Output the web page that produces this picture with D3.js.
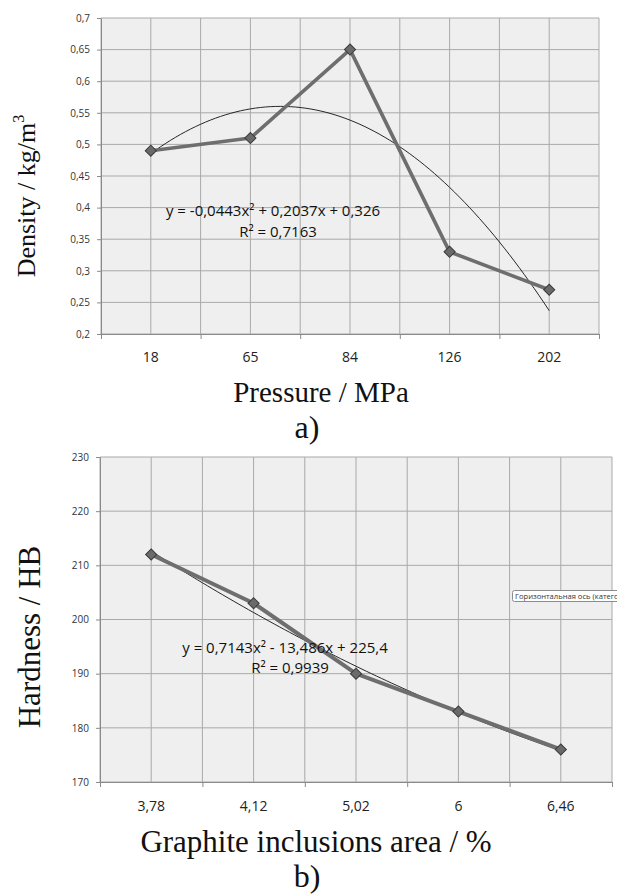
<!DOCTYPE html>
<html>
<head>
<meta charset="utf-8">
<script src="https://cdn.jsdelivr.net/npm/d3@7"></script>
<style>
  body { margin: 0; background: #fff; }
  svg { display: block; }
</style>
</head>
<body>
<div id="main"></div>
<script>
// panel a) density vs pressure
const pressureLabels = ['18', '65', '84', '126', '202'];
const densityValues = [0.49, 0.51, 0.65, 0.33, 0.27];
const densityTicks = [0.2, 0.25, 0.3, 0.35, 0.4, 0.45, 0.5, 0.55, 0.6, 0.65, 0.7];
const densityTrendCoefs = [-0.0443, 0.2037, 0.326];
const densityEquation = ['y = -0,0443x² + 0,2037x + 0,326', 'R² = 0,7163'];

// panel b) hardness vs graphite area
const graphiteLabels = ['3,78', '4,12', '5,02', '6', '6,46'];
const hardnessValues = [212, 203, 190, 183, 176];
const hardnessTicks = [170, 180, 190, 200, 210, 220, 230];
const hardnessTrendCoefs = [0.7143, -13.486, 225.4];
const hardnessEquation = ['y = 0,7143x² - 13,486x + 225,4', 'R² = 0,9939'];

const
  width = 617,
  height = 896;

const serif = "'Liberation Serif', 'DejaVu Serif', serif";
const sans = "'Open Sans', 'Noto Sans', sans-serif";

const commaFmt = d3.formatLocale({decimal: ',', thousands: ' ', grouping: [3], currency: ['', '']}).format('.2~f');

const svg = d3.select('div#main').append('svg').attr('width', width).attr('height', height);

function drawPanel(p) {
  const x = d3.scaleBand().domain(p.labels).range([p.left, p.right]);
  const y = d3.scaleLinear().domain(d3.extent(p.ticks)).range([p.bottom, p.top]);
  const slots = d3.scaleLinear().domain([0, p.labels.length]).range([p.left, p.right]);
  const cx = (d, i) => x(p.labels[i]) + x.bandwidth() / 2;

  const g = svg.append('g');

  g.append('rect')
    .attr('x', p.left).attr('y', p.top)
    .attr('width', p.right - p.left).attr('height', p.bottom - p.top)
    .attr('fill', '#efefef');

  // grid: horizontal at every tick, vertical at band edges and centres
  g.append('g').selectAll('line').data(p.ticks).join('line')
    .attr('x1', p.left).attr('x2', p.right)
    .attr('y1', (d) => y(d)).attr('y2', (d) => y(d))
    .attr('stroke', '#a9a9a9').attr('stroke-width', 1);
  g.append('g').selectAll('line').data(d3.range(0, p.labels.length + 0.5, 0.5)).join('line')
    .attr('x1', (d) => slots(d)).attr('x2', (d) => slots(d))
    .attr('y1', p.top).attr('y2', p.bottom)
    .attr('stroke', '#a9a9a9').attr('stroke-width', 1);

  const yAxis = d3.axisLeft(y).tickValues(p.ticks).tickSize(4).tickSizeOuter(0).tickPadding(7)
    .tickFormat(p.fmt);
  g.append('g').attr('class', 'axis y').attr('transform', `translate(${p.left}, 0)`).call(yAxis)
    .call((a) => a.selectAll('line, path').attr('stroke', '#8a8a8a'))
    .call((a) => a.selectAll('text').attr('font-family', sans).attr('font-size', 10).attr('fill', '#333'));

  const xTicks = d3.axisBottom(slots).tickValues(d3.range(0, p.labels.length + 1)).tickSize(5).tickSizeOuter(0)
    .tickFormat('');
  g.append('g').attr('transform', `translate(0, ${p.bottom})`).call(xTicks)
    .call((a) => a.selectAll('line, path').attr('stroke', '#8a8a8a'));

  const xAxis = d3.axisBottom(x).tickSize(0).tickPadding(p.labelPad);
  g.append('g').attr('class', 'axis x').attr('transform', `translate(0, ${p.bottom})`).call(xAxis)
    .call((a) => a.select('.domain').remove())
    .call((a) => a.selectAll('text').attr('font-family', sans).attr('font-size', 14).attr('fill', '#222'));

  // polynomial trend line from the printed equation
  const [a2, a1, a0] = p.coefs;
  const trend = d3.range(1, p.labels.length + 0.001, 0.05);
  const trendLine = d3.line()
    .x((t) => slots(t - 0.5))
    .y((t) => y(a2 * t * t + a1 * t + a0));
  g.append('path').attr('d', trendLine(trend))
    .attr('fill', 'none').attr('stroke', '#111').attr('stroke-width', 0.9);

  const line = d3.line().x(cx).y((d) => y(d));
  g.append('path').attr('d', line(p.values))
    .attr('fill', 'none').attr('stroke', '#6e6e6e').attr('stroke-width', p.lineWidth)
    .attr('stroke-linejoin', 'round');

  g.append('g').selectAll('path').data(p.values).join('path')
    .attr('d', d3.symbol(d3.symbolSquare, 62))
    .attr('transform', (d, i) => `translate(${cx(d, i)}, ${y(d)}) rotate(45)`)
    .attr('fill', '#6a6a6a').attr('stroke', '#3a3a3a').attr('stroke-width', 1);

  const eq = g.append('text').attr('font-family', sans).attr('font-size', 15).attr('fill', '#111')
    .attr('text-anchor', 'middle');
  eq.append('tspan').attr('x', p.eqX).attr('y', p.eqY[0]).text(p.equation[0]);
  eq.append('tspan').attr('x', p.eqX + 5).attr('y', p.eqY[1]).text(p.equation[1]);

  g.append('text')
    .attr('x', p.xTitle[0]).attr('y', p.xTitle[1])
    .attr('text-anchor', 'middle').attr('font-family', serif).attr('font-size', p.xTitleSize)
    .attr('fill', '#111').text(p.xTitleText);

  g.append('text')
    .attr('x', p.tag[0]).attr('y', p.tag[1])
    .attr('text-anchor', 'middle').attr('font-family', serif).attr('font-size', 32)
    .attr('fill', '#111').text(p.tagText);

  const yt = g.append('text')
    .attr('transform', `translate(${p.yTitle[0]}, ${p.yTitle[1]}) rotate(-90)`)
    .attr('text-anchor', 'middle').attr('font-family', serif).attr('font-size', p.yTitleSize)
    .attr('fill', '#111');
  yt.append('tspan').text(p.yTitleText);
  if (p.yTitleSup) {
    yt.append('tspan').attr('font-size', p.yTitleSize * 0.62).attr('dy', -p.yTitleSize * 0.42).text(p.yTitleSup);
  }

  return g;
}

drawPanel({
  labels: pressureLabels, values: densityValues, ticks: densityTicks, coefs: densityTrendCoefs,
  equation: densityEquation, fmt: commaFmt, lineWidth: 3.6,
  left: 101, right: 599, top: 18, bottom: 334, labelPad: 18,
  eqX: 273, eqY: [216, 237],
  xTitleText: 'Pressure / MPa', xTitle: [321, 402], xTitleSize: 29,
  tagText: 'a)', tag: [307, 438],
  yTitleText: 'Density / kg/m', yTitleSup: '3', yTitle: [35, 196], yTitleSize: 26
});

const panelB = drawPanel({
  labels: graphiteLabels, values: hardnessValues, ticks: hardnessTicks, coefs: hardnessTrendCoefs,
  equation: hardnessEquation, fmt: (d) => d, lineWidth: 4,
  left: 100, right: 612, top: 457, bottom: 782, labelPad: 19,
  eqX: 285, eqY: [653, 673],
  xTitleText: 'Graphite inclusions area / %', xTitle: [316, 852], xTitleSize: 31,
  tagText: 'b)', tag: [307, 887],
  yTitleText: 'Hardness / HB', yTitle: [40, 637], yTitleSize: 31
});

// hover tooltip captured in the screenshot (runs off the right edge)
panelB.append('rect')
  .attr('x', 512.5).attr('y', 590.5).attr('width', 190).attr('height', 11).attr('rx', 2)
  .attr('fill', '#fff').attr('stroke', '#8c8c8c');
panelB.append('text')
  .attr('x', 515).attr('y', 599).attr('font-family', sans).attr('font-size', 7.6)
  .attr('fill', '#333').text('Горизонтальная ось (категорий)');
</script>
</body>
</html>
